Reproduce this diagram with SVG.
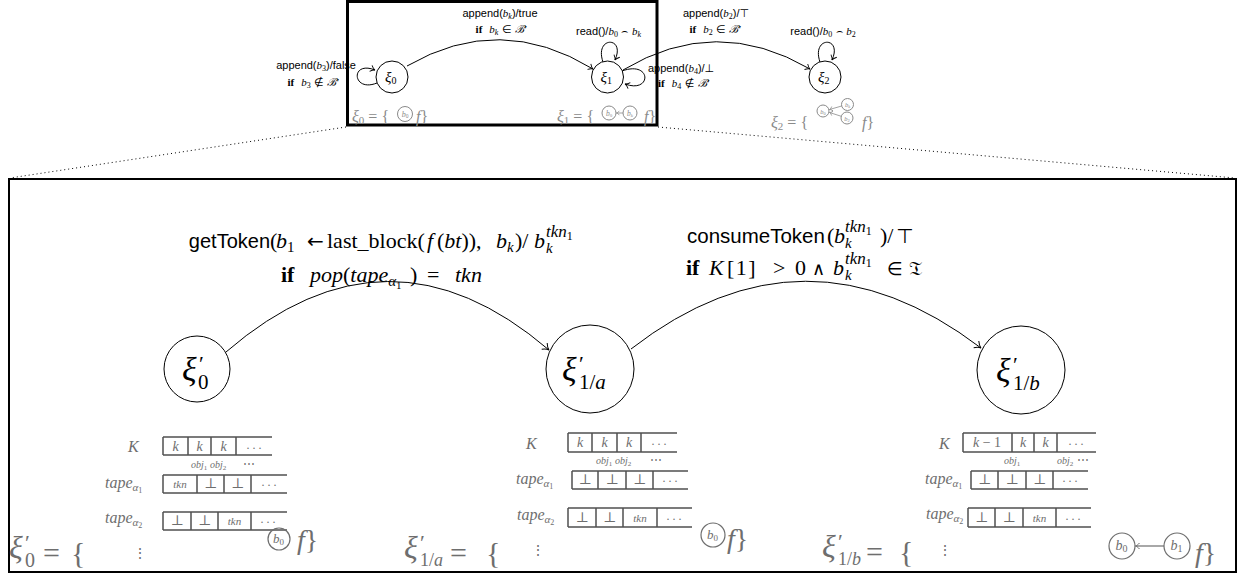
<svg xmlns="http://www.w3.org/2000/svg" width="1244" height="575" viewBox="0 0 1244 575">
<style>
.s{font-family:"Liberation Sans",Arial,sans-serif}
.m{font-family:"Liberation Serif","DejaVu Serif",serif}
.i{font-style:italic}
.n{font-style:normal}
.b{font-weight:bold}
.sym{font-family:"DejaVu Sans",sans-serif}
.edge{fill:none;stroke:#000;stroke-width:1}
.node{fill:#fff;stroke:#000;stroke-width:1}
.gray{fill:#8a8a8a}
.g2{fill:#6e6e6e}
.tab{fill:none;stroke:#505050;stroke-width:1.5}
.cell{font-family:"Liberation Serif","DejaVu Serif",serif;font-size:14px;fill:#6e6e6e;text-anchor:middle}
.lab{font-family:"Liberation Serif",serif;font-style:italic;font-size:16px;fill:#6e6e6e}
.small{font-family:"Liberation Serif",serif;font-style:italic;font-size:10px;fill:#6e6e6e}
.ring{fill:none;stroke:#8a8a8a;stroke-width:1}
.dot{fill:none;stroke:#000;stroke-width:1;stroke-dasharray:1 3}
</style>
<defs>
<marker id="ah" markerUnits="userSpaceOnUse" markerWidth="12" markerHeight="12" refX="0" refY="0" orient="auto" overflow="visible">
<path d="M-4.5,-3.2 C-2.8,-1.3 -1.2,-0.3 0,0 C-1.2,0.3 -2.8,1.3 -4.5,3.2" fill="none" stroke="#000" stroke-width="0.9"/>
</marker>
<marker id="ahL" markerUnits="userSpaceOnUse" markerWidth="14" markerHeight="14" refX="0" refY="0" orient="auto" overflow="visible">
<path d="M-6,-4.2 C-3.8,-1.8 -1.6,-0.4 0,0 C-1.6,0.4 -3.8,1.8 -6,4.2" fill="none" stroke="#000" stroke-width="1"/>
</marker>
<marker id="ahG" markerUnits="userSpaceOnUse" markerWidth="10" markerHeight="10" refX="0" refY="0" orient="auto" overflow="visible">
<path d="M-3,-2.2 C-1.9,-0.9 -0.8,-0.2 0,0 C-0.8,0.2 -1.9,0.9 -3,2.2" fill="none" stroke="#8a8a8a" stroke-width="0.8"/>
</marker>
<marker id="ahG2" markerUnits="userSpaceOnUse" markerWidth="10" markerHeight="10" refX="0" refY="0" orient="auto" overflow="visible">
<path d="M-4,-3 C-2.5,-1.2 -1,-0.3 0,0 C-1,0.3 -2.5,1.2 -4,3" fill="none" stroke="#6e6e6e" stroke-width="1"/>
</marker>
</defs>

<!-- frames -->
<g id="frames">
<rect x="347.5" y="1.5" width="309.5" height="123.5" fill="none" stroke="#000" stroke-width="3"/>
<rect x="9" y="179" width="1227" height="393" fill="none" stroke="#000" stroke-width="2"/>
<line class="dot" x1="346" y1="127" x2="10" y2="178"/>
<line class="dot" x1="658" y1="127" x2="1235" y2="178"/>
</g>

<!-- connectors -->
<g id="connectors">
<path class="edge" d="M407,66 Q500,12 593,69" marker-end="url(#ah)"/>
<path class="edge" d="M623,70 Q716,14 810,69" marker-end="url(#ah)"/>
<path class="edge" d="M377,83 C352,93 350,60 375,70" marker-end="url(#ah)"/>
<path class="edge" d="M603,62 C594,36 626,36 615,60" marker-end="url(#ah)"/>
<path class="edge" d="M622,71 C652,60 652,94 625,84" marker-end="url(#ah)"/>
<path class="edge" d="M820,62 C811,36 843,36 832,60" marker-end="url(#ah)"/>
<path class="edge" d="M226,352 Q388,212 549,350" marker-end="url(#ahL)"/>
<path class="edge" d="M631,349 Q805,214 981,348" marker-end="url(#ahL)"/>
</g>

<!-- top edge labels -->
<g id="top-labels" font-size="11">
<text x="356" y="69" class="s" text-anchor="end">append(<tspan class="m i">b</tspan><tspan class="m n" font-size="8" dy="2">3</tspan><tspan dy="-2">)/false</tspan></text>
<text x="313" y="86" class="m" text-anchor="middle"><tspan class="b">if</tspan><tspan class="i" dx="7">b</tspan><tspan font-size="8" dy="2">3</tspan><tspan dy="-2" class="sym"> ∉ </tspan><tspan class="i">ℬ′</tspan></text>
<text x="500" y="17" class="s" text-anchor="middle">append(<tspan class="m i">b</tspan><tspan class="m i" font-size="8" dy="2">k</tspan><tspan dy="-2">)/true</tspan></text>
<text x="501" y="33" class="m" text-anchor="middle"><tspan class="b">if</tspan><tspan class="i" dx="7">b</tspan><tspan class="i" font-size="8" dy="2">k</tspan><tspan dy="-2" class="sym"> ∈ </tspan><tspan class="i">ℬ′</tspan></text>
<text x="608.5" y="35" class="s" text-anchor="middle">read()/<tspan class="m i">b</tspan><tspan class="m n" font-size="8" dy="2">0</tspan><tspan dy="-2" class="sym"> ⌢ </tspan><tspan class="m i">b</tspan><tspan class="m i" font-size="8" dy="2">k</tspan></text>
<text x="716" y="17" class="s" text-anchor="middle">append(<tspan class="m i">b</tspan><tspan class="m n" font-size="8" dy="2">2</tspan><tspan dy="-2">)/</tspan><tspan class="sym">⊤</tspan></text>
<text x="715" y="33" class="m" text-anchor="middle"><tspan class="b">if</tspan><tspan class="i" dx="7">b</tspan><tspan font-size="8" dy="2">2</tspan><tspan dy="-2" class="sym"> ∈ </tspan><tspan class="i">ℬ′</tspan></text>
<text x="823" y="35" class="s" text-anchor="middle">read()/<tspan class="m i">b</tspan><tspan class="m n" font-size="8" dy="2">0</tspan><tspan dy="-2" class="sym"> ⌢ </tspan><tspan class="m i">b</tspan><tspan class="m n" font-size="8" dy="2">2</tspan></text>
<text x="648" y="72" class="s">append(<tspan class="m i">b</tspan><tspan class="m n" font-size="8" dy="2">4</tspan><tspan dy="-2">)/</tspan><tspan class="sym">⊥</tspan></text>
<text x="658" y="87" class="m"><tspan class="b">if</tspan><tspan class="i" dx="7">b</tspan><tspan font-size="8" dy="2">4</tspan><tspan dy="-2" class="sym"> ∉ </tspan><tspan class="i">ℬ′</tspan></text>
</g>

<!-- top nodes -->
<g id="xi0">
<circle class="node" cx="392" cy="77" r="16"/>
<text x="385" y="82" class="m i" font-size="15">ξ<tspan class="n" font-size="10" dy="2">0</tspan></text>
</g>
<g id="xi1">
<circle class="node" cx="607.5" cy="77" r="16"/>
<text x="600.5" y="82" class="m i" font-size="15">ξ<tspan class="n" font-size="10" dy="2">1</tspan></text>
</g>
<g id="xi2">
<circle class="node" cx="825" cy="77" r="16"/>
<text x="818" y="82" class="m i" font-size="15">ξ<tspan class="n" font-size="10" dy="2">2</tspan></text>
</g>

<!-- top state sets -->
<g id="set-xi0" class="gray">
<text x="352" y="122" class="m i" font-size="16">ξ<tspan class="n" font-size="11" dy="2">0</tspan><tspan class="n" dy="-2"> = {</tspan></text>
<circle class="ring" cx="405" cy="114" r="7.5"/>
<text x="405" y="117" class="m i" font-size="8" text-anchor="middle">b<tspan class="n" font-size="5.5" dy="1">0</tspan></text>
<text x="416" y="122" class="m i" font-size="16">f<tspan class="n">}</tspan></text>
</g>
<g id="set-xi1" class="gray">
<text x="557" y="122" class="m i" font-size="16">ξ<tspan class="n" font-size="11" dy="2">1</tspan><tspan class="n" dy="-2"> = {</tspan></text>
<circle class="ring" cx="609" cy="113" r="7"/>
<text x="609" y="116" class="m i" font-size="7.5" text-anchor="middle">b<tspan class="n" font-size="5" dy="1">0</tspan></text>
<circle class="ring" cx="630" cy="113" r="7"/>
<text x="630" y="116" class="m i" font-size="7.5" text-anchor="middle">b<tspan font-size="5" dy="1">k</tspan></text>
<line x1="623" y1="113" x2="616.5" y2="113" stroke="#8a8a8a" stroke-width="0.8" marker-end="url(#ahG)"/>
<text x="644" y="122" class="m i" font-size="16">f<tspan class="n">}</tspan></text>
</g>
<g id="set-xi2" class="gray">
<text x="771" y="128" class="m i" font-size="16">ξ<tspan class="n" font-size="11" dy="2">2</tspan><tspan class="n" dy="-2"> = {</tspan></text>
<circle class="ring" cx="823" cy="111" r="6"/>
<text x="823" y="113.5" class="m i" font-size="6.5" text-anchor="middle">b<tspan class="n" font-size="4.5" dy="1">0</tspan></text>
<circle class="ring" cx="847.5" cy="104.5" r="6"/>
<text x="847.5" y="107" class="m i" font-size="6.5" text-anchor="middle">b<tspan font-size="4.5" dy="1">k</tspan></text>
<circle class="ring" cx="847" cy="118" r="6"/>
<text x="847" y="120.5" class="m i" font-size="6.5" text-anchor="middle">b<tspan class="n" font-size="4.5" dy="1">2</tspan></text>
<line x1="841.7" y1="106" x2="829.5" y2="109.5" stroke="#8a8a8a" stroke-width="0.8" marker-end="url(#ahG)"/>
<line x1="841.3" y1="116.3" x2="829.5" y2="112.5" stroke="#8a8a8a" stroke-width="0.8" marker-end="url(#ahG)"/>
<text x="862" y="128" class="m i" font-size="16">f<tspan class="n">}</tspan></text>
</g>

<!-- bottom edge labels -->
<g id="bottom-labels" font-size="22">
<text x="270" y="248" class="s" font-size="20" text-anchor="end">getToken</text>
<text class="m"><tspan x="270" y="248">(</tspan><tspan x="276" y="248" class="i">b</tspan><tspan x="287" y="252" font-size="15">1</tspan><tspan x="307" y="248" class="sym" font-size="20">←</tspan><tspan x="327" y="248">last_block(</tspan><tspan x="427" y="248" class="i">f</tspan><tspan x="437" y="248">(<tspan class="i">bt</tspan>)),</tspan><tspan x="496" y="248" class="i">b</tspan><tspan x="507" y="252" class="i" font-size="15">k</tspan><tspan x="515" y="248">)/</tspan><tspan x="534" y="248" class="i">b</tspan><tspan x="546" y="253" class="i" font-size="15">k</tspan><tspan x="546" y="237" class="i" font-size="17">tkn</tspan><tspan y="240" font-size="12">1</tspan></text>
<text class="m"><tspan x="281" y="282" class="b">if</tspan><tspan x="310" y="282" class="i">pop</tspan>(<tspan class="i">tape</tspan><tspan dy="4" class="i" font-size="15">α</tspan><tspan dy="3" font-size="11">1</tspan><tspan x="410" y="282">)</tspan><tspan x="427" y="282">=</tspan><tspan x="455" y="282" class="i">tkn</tspan></text>
<text x="687" y="243" class="s" font-size="20.5">consumeToken</text>
<text class="m"><tspan x="827" y="243">(</tspan><tspan x="834" y="243" class="i">b</tspan><tspan x="845" y="248" class="i" font-size="15">k</tspan><tspan x="845" y="232" class="i" font-size="17">tkn</tspan><tspan y="235" font-size="12">1</tspan><tspan x="880" y="243">)/</tspan><tspan x="896" y="243" class="sym" font-size="20">⊤</tspan></text>
<text class="m"><tspan x="686" y="275" class="b">if</tspan><tspan x="709" y="275" class="i">K</tspan><tspan x="727" y="275" letter-spacing="1.5">[1]</tspan><tspan x="773" y="275">&gt;</tspan><tspan x="795" y="275">0</tspan><tspan x="812" y="275" class="sym" font-size="18">∧</tspan><tspan x="833" y="275" class="i">b</tspan><tspan x="845" y="280" class="i" font-size="15">k</tspan><tspan x="845" y="264" class="i" font-size="17">tkn</tspan><tspan y="267" font-size="12">1</tspan><tspan x="887" y="275" class="sym" font-size="18">∈</tspan><tspan x="909" y="275" class="sym" font-size="20">𝔗</tspan></text>
</g>

<!-- bottom nodes -->
<g id="xi0p">
<circle class="node" cx="197" cy="369" r="33"/>
<text class="m" font-size="34"><tspan x="182" y="381" class="i">ξ</tspan><tspan x="199" y="371" font-size="22">′</tspan><tspan x="198" y="389" font-size="21">0</tspan></text>
</g>
<g id="xi1ap">
<circle class="node" cx="590" cy="369" r="44"/>
<text class="m" font-size="34"><tspan x="562" y="381" class="i">ξ</tspan><tspan x="579" y="371" font-size="22">′</tspan><tspan x="579" y="389" font-size="21">1/<tspan class="i">a</tspan></tspan></text>
</g>
<g id="xi1bp">
<circle class="node" cx="1021" cy="370" r="44"/>
<text class="m" font-size="34"><tspan x="996" y="382" class="i">ξ</tspan><tspan x="1013" y="372" font-size="22">′</tspan><tspan x="1013" y="390" font-size="21">1/<tspan class="i">b</tspan></tspan></text>
</g>

<!-- state xi'0 -->
<g id="set-xi0p">
<text class="m g2" font-size="32"><tspan x="9" y="558" class="i">ξ</tspan><tspan x="25" y="550" font-size="22">′</tspan><tspan x="25" y="567" font-size="20">0</tspan><tspan x="43" y="563" font-size="30">=</tspan><tspan x="71" y="563" font-size="30">{</tspan></text>
<text x="128" y="452" class="lab">K</text>
<path class="tab" d="M163,437H272M163,455H272M163,437V455M188,437V455M211,437V455M236,437V455"/>
<text class="cell" y="451"><tspan x="175.5" class="i">k</tspan><tspan x="199.5" class="i">k</tspan><tspan x="223.5" class="i">k</tspan><tspan x="254" font-size="12" y="449">. . .</tspan></text>
<text class="small" y="468"><tspan x="191">obj</tspan><tspan class="n" font-size="7" dy="2">1</tspan><tspan x="210" dy="-2">obj</tspan><tspan class="n" font-size="7" dy="2">2</tspan><tspan x="243" dy="-2" class="n" font-size="12">⋯</tspan></text>
<text x="105" y="488" class="lab">tape<tspan font-size="11" dy="3">α</tspan><tspan class="n" font-size="8" dy="2">1</tspan></text>
<path class="tab" d="M163,475H287M163,493H287M163,475V493M197,475V493M224,475V493M251,475V493"/>
<text class="cell" y="488"><tspan x="180" class="i" font-size="11">tkn</tspan><tspan x="210.5">⊥</tspan><tspan x="237.5">⊥</tspan><tspan x="269" font-size="12" y="486">. . .</tspan></text>
<text x="105" y="523" class="lab">tape<tspan font-size="11" dy="3">α</tspan><tspan class="n" font-size="8" dy="2">2</tspan></text>
<path class="tab" d="M163,512H287M163,530H287M163,512V530M191,512V530M218,512V530M251,512V530"/>
<text class="cell" y="525"><tspan x="177">⊥</tspan><tspan x="204.5">⊥</tspan><tspan x="234.5" class="i" font-size="11">tkn</tspan><tspan x="268" font-size="12" y="523">. . .</tspan></text>
<text x="140" y="558" class="cell" font-size="13">⋮</text>
<circle cx="279" cy="539" r="11" fill="none" stroke="#6e6e6e" stroke-width="1.2"/>
<text x="278.5" y="543" class="m i g2" font-size="13" text-anchor="middle">b<tspan class="n" font-size="9" dy="2">0</tspan></text>
<text x="297" y="549" class="m i g2" font-size="28">f<tspan class="n">}</tspan></text>
</g>

<!-- state xi'1/a -->
<g id="set-xi1ap">
<text class="m g2" font-size="32"><tspan x="404" y="558" class="i">ξ</tspan><tspan x="420" y="550" font-size="22">′</tspan><tspan x="420" y="566" font-size="18">1/<tspan class="i">a</tspan></tspan><tspan x="450" y="563" font-size="30">=</tspan><tspan x="486" y="563" font-size="30">{</tspan></text>
<text x="526" y="449" class="lab">K</text>
<path class="tab" d="M568,433H677M568,452H677M568,433V452M592,433V452M617,433V452M641,433V452"/>
<text class="cell" y="447"><tspan x="580" class="i">k</tspan><tspan x="604.5" class="i">k</tspan><tspan x="629" class="i">k</tspan><tspan x="659" font-size="12" y="445">. . .</tspan></text>
<text class="small" y="464"><tspan x="596">obj</tspan><tspan class="n" font-size="7" dy="2">1</tspan><tspan x="615" dy="-2">obj</tspan><tspan class="n" font-size="7" dy="2">2</tspan><tspan x="650" dy="-2" class="n" font-size="12">⋯</tspan></text>
<text x="516" y="484" class="lab">tape<tspan font-size="11" dy="3">α</tspan><tspan class="n" font-size="8" dy="2">1</tspan></text>
<path class="tab" d="M572,471H688M572,489H688M572,471V489M598,471V489M626,471V489M653,471V489"/>
<text class="cell" y="484"><tspan x="585">⊥</tspan><tspan x="612">⊥</tspan><tspan x="639.5">⊥</tspan><tspan x="670" font-size="12" y="482">. . .</tspan></text>
<text x="517" y="520" class="lab">tape<tspan font-size="11" dy="3">α</tspan><tspan class="n" font-size="8" dy="2">2</tspan></text>
<path class="tab" d="M568,508H692M568,527H692M568,508V527M596,508V527M623,508V527M657,508V527"/>
<text class="cell" y="522"><tspan x="582">⊥</tspan><tspan x="609.5">⊥</tspan><tspan x="640" class="i" font-size="11">tkn</tspan><tspan x="674" font-size="12" y="520">. . .</tspan></text>
<text x="538" y="555" class="cell" font-size="13">⋮</text>
<circle cx="713" cy="535" r="12" fill="none" stroke="#6e6e6e" stroke-width="1.2"/>
<text x="712.5" y="539" class="m i g2" font-size="13" text-anchor="middle">b<tspan class="n" font-size="9" dy="2">0</tspan></text>
<text x="727" y="548" class="m i g2" font-size="28">f<tspan class="n">}</tspan></text>
</g>

<!-- state xi'1/b -->
<g id="set-xi1bp">
<text class="m g2" font-size="32"><tspan x="822" y="557" class="i">ξ</tspan><tspan x="838" y="549" font-size="22">′</tspan><tspan x="838" y="565" font-size="18">1/<tspan class="i">b</tspan></tspan><tspan x="866" y="562" font-size="30">=</tspan><tspan x="899" y="562" font-size="30">{</tspan></text>
<text x="939" y="449" class="lab">K</text>
<path class="tab" d="M963,433H1096M963,452H1096M963,433V452M1012,433V452M1034,433V452M1057,433V452"/>
<text class="cell" y="447"><tspan x="987"><tspan class="i">k</tspan> − 1</tspan><tspan x="1023" class="i">k</tspan><tspan x="1045.5" class="i">k</tspan><tspan x="1076" font-size="12" y="445">. . .</tspan></text>
<text class="small" y="464"><tspan x="1004">obj</tspan><tspan class="n" font-size="7" dy="2">1</tspan><tspan x="1057" dy="-2">obj</tspan><tspan class="n" font-size="7" dy="2">2</tspan><tspan x="1077" dy="-2" class="n" font-size="12">⋯</tspan></text>
<text x="925" y="484" class="lab">tape<tspan font-size="11" dy="3">α</tspan><tspan class="n" font-size="8" dy="2">1</tspan></text>
<path class="tab" d="M971,471H1088M971,489H1088M971,471V489M998,471V489M1026,471V489M1053,471V489"/>
<text class="cell" y="484"><tspan x="984.5">⊥</tspan><tspan x="1012">⊥</tspan><tspan x="1039.5">⊥</tspan><tspan x="1070" font-size="12" y="482">. . .</tspan></text>
<text x="926" y="519" class="lab">tape<tspan font-size="11" dy="3">α</tspan><tspan class="n" font-size="8" dy="2">2</tspan></text>
<path class="tab" d="M968,508H1091M968,527H1091M968,508V527M995,508V527M1023,508V527M1056,508V527"/>
<text class="cell" y="522"><tspan x="981.5">⊥</tspan><tspan x="1009">⊥</tspan><tspan x="1039.5" class="i" font-size="11">tkn</tspan><tspan x="1073" font-size="12" y="520">. . .</tspan></text>
<text x="945" y="555" class="cell" font-size="13">⋮</text>
<circle cx="1122" cy="546" r="13" fill="none" stroke="#6e6e6e" stroke-width="1.2"/>
<text x="1121.5" y="550" class="m i g2" font-size="14" text-anchor="middle">b<tspan class="n" font-size="10" dy="2">0</tspan></text>
<circle cx="1177" cy="546" r="13" fill="none" stroke="#6e6e6e" stroke-width="1.2"/>
<text x="1176.5" y="550" class="m i g2" font-size="14" text-anchor="middle">b<tspan class="n" font-size="10" dy="2">1</tspan></text>
<line x1="1164" y1="546" x2="1135.5" y2="546" stroke="#6e6e6e" stroke-width="1.2" marker-end="url(#ahG2)"/>
<text x="1195" y="562" class="m i g2" font-size="28">f<tspan class="n">}</tspan></text>
</g>
</svg>
